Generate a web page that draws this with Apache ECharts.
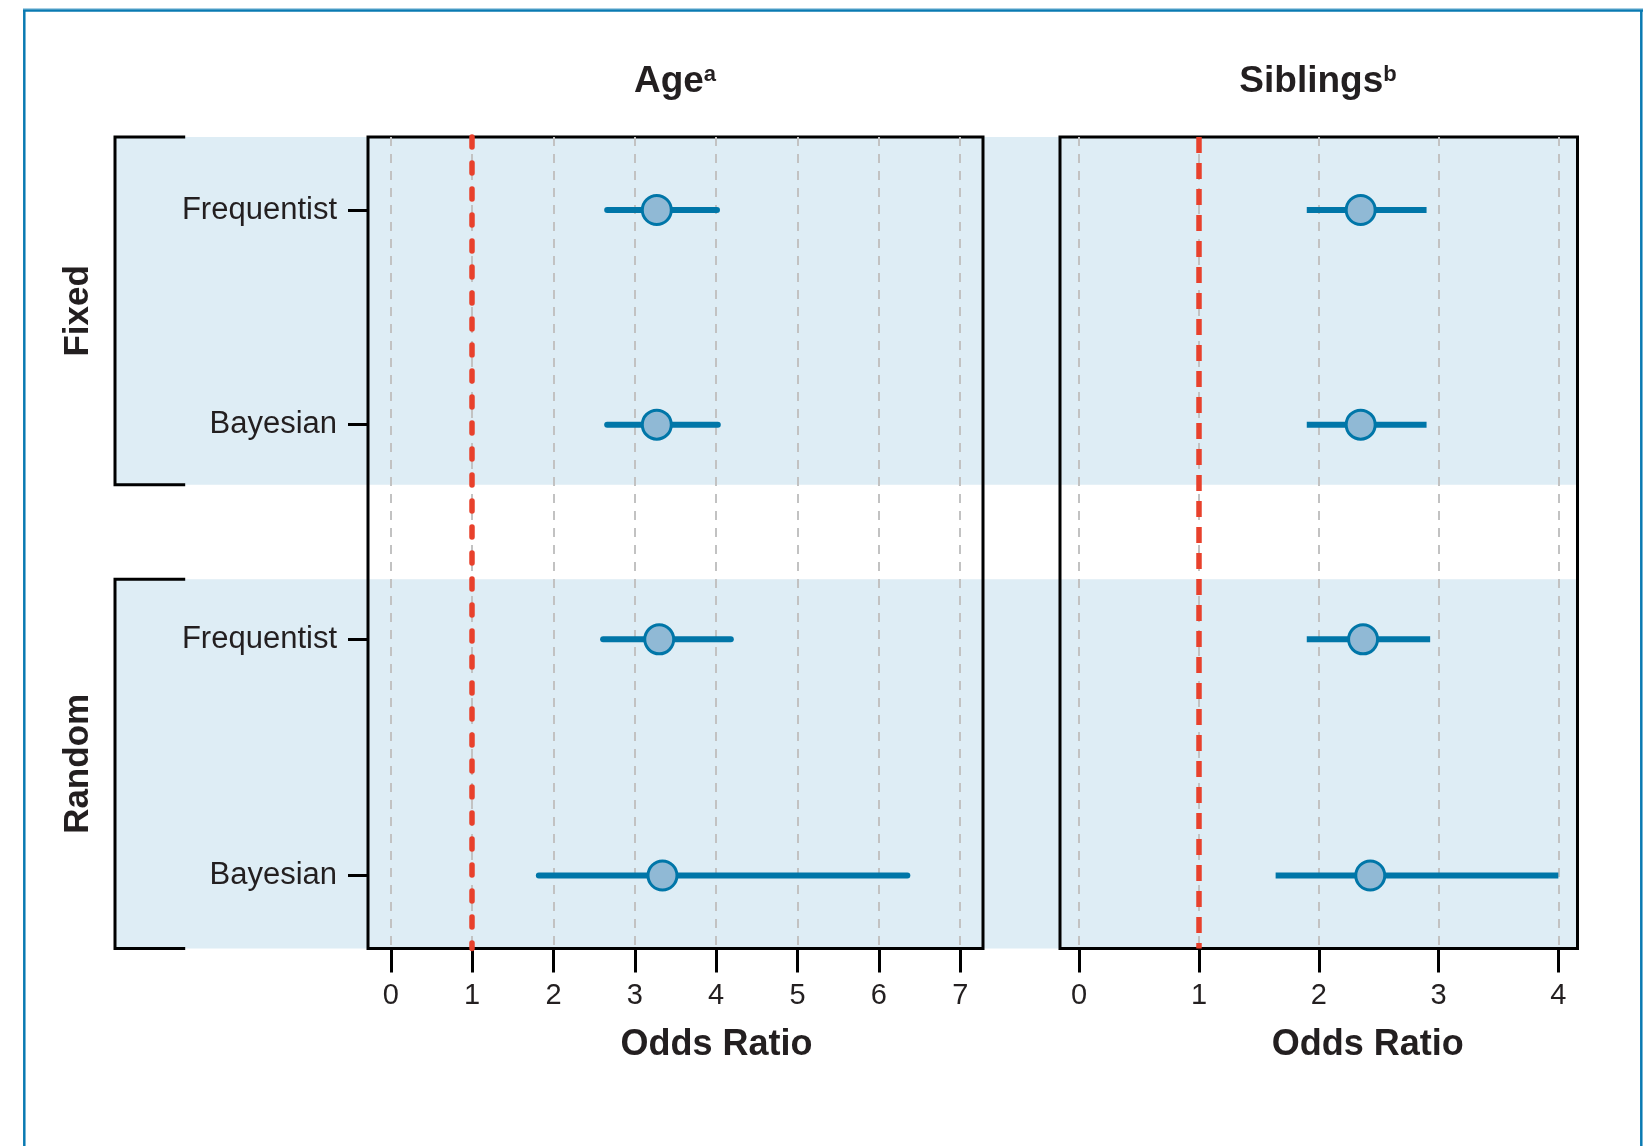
<!DOCTYPE html>
<html>
<head>
<meta charset="utf-8">
<style>
html, body { margin: 0; padding: 0; background: #fff; }
#chart { width: 1649px; height: 1146px; }
</style>
<script src="https://cdn.jsdelivr.net/npm/echarts@6/dist/echarts.min.js"></script>
</head>
<body>
<div id="chart"></div>
<script>
// rows, top to bottom (y position on a shared row scale)
const rowLabels = ['Frequentist', 'Bayesian', 'Frequentist', 'Bayesian'];
const rowPos = [0.34, 1.34, 2.34, 3.44];
const rowMax = 3.78;
const groupNames = ['Fixed', 'Random'];
const groupSpans = [[0, 1.62], [2.06, 3.78]];

// odds ratio with lower / upper limit, one value per row
const ageOR = [3.27, 3.27, 3.30, 3.34];
const ageLow = [2.66, 2.66, 2.61, 1.82];
const ageHigh = [4.01, 4.02, 4.18, 6.35];
const sibOR = [2.35, 2.35, 2.37, 2.43];
const sibLow = [1.90, 1.90, 1.90, 1.64];
const sibHigh = [2.90, 2.90, 2.93, 4.00];

const ageTicks = [0, 1, 2, 3, 4, 5, 6, 7];
const sibTicks = [0, 1, 2, 3, 4];

const FONT = 'Liberation Sans, Arial, Helvetica, sans-serif';
const BLUE = '#0076a8';
const DOT = '#90b9d5';
const BAND = '#deedf5';
const RED = '#e8412c';
const INK = '#231f20';
const BRACKET_ARM = 0.048;

const mychart = echarts.init(document.getElementById('chart'));

const xAxisFor = (idx, min, max, ticks, namePad) => ({
    type: 'value', gridIndex: idx, min: min, max: max, z: 3, position: 'bottom',
    axisLine: { show: false, onZero: false },
    axisTick: { show: true, inside: false, customValues: ticks, length: 24, lineStyle: { color: '#000', width: 3 } },
    axisLabel: { customValues: ticks, margin: 33, fontSize: 29, color: INK, fontFamily: FONT },
    splitLine: { show: true, lineStyle: { color: '#c2c2c2', width: 2, type: [9, 8] } },
    name: 'Odds Ratio', nameLocation: 'middle', nameGap: 79,
    nameTextStyle: { fontSize: 36, fontWeight: 'bold', color: INK, fontFamily: FONT, padding: [0, 0, 0, namePad] }
});

const yAxisFor = (idx, withLabels) => ({
    type: 'value', gridIndex: idx, min: 0, max: rowMax, inverse: true, z: 3, position: 'left',
    axisLine: { show: false, onZero: false },
    splitLine: { show: false },
    axisTick: { show: withLabels, inside: false, customValues: rowPos, length: 20, lineStyle: { color: '#000', width: 3 } },
    axisLabel: {
        show: withLabels, customValues: rowPos, margin: 31, fontSize: 31, color: INK, fontFamily: FONT,
        formatter: v => rowLabels[rowPos.findIndex(p => Math.abs(p - v) < 1e-6)] || ''
    }
});

const barItem = cap => (params, api) => {
    const y = api.value(0);
    const a = api.coord([api.value(1), y]);
    const b = api.coord([api.value(2), y]);
    return {
        type: 'line',
        shape: { x1: a[0], y1: a[1], x2: b[0], y2: b[1] },
        style: { stroke: BLUE, lineWidth: 6, lineCap: cap }
    };
};

const groupItem = (params, api) => {
    const y0 = api.value(0), y1 = api.value(1);
    const tl = api.coord([0, y0]);
    const br = api.coord([1, y1]);
    const arm = api.coord([BRACKET_ARM, y0])[0];
    return {
        type: 'group',
        children: [
            { type: 'rect', shape: { x: tl[0], y: tl[1], width: br[0] - tl[0], height: br[1] - tl[1] }, style: { fill: BAND } },
            { type: 'polyline', shape: { points: [[arm, tl[1]], [tl[0], tl[1]], [tl[0], br[1]], [arm, br[1]]] },
              style: { stroke: '#000', lineWidth: 3, fill: 'none' } },
            { type: 'text', x: tl[0] - 37, y: (tl[1] + br[1]) / 2, rotation: Math.PI / 2,
              style: { text: groupNames[params.dataIndex], font: 'bold 35px ' + FONT, fill: INK, align: 'center', verticalAlign: 'middle' } }
        ]
    };
};

const refLine = (dash, cap) => ({
    silent: true, symbol: ['none', 'none'], z: 5,
    label: { show: false },
    lineStyle: { color: RED, width: 5.5, type: dash, cap: cap },
    data: [{ xAxis: 1 }]
});

const panelSeries = (idx, ors, lows, highs, cap, dash) => [
    {
        type: 'custom', xAxisIndex: idx, yAxisIndex: idx, z: 6, silent: true,
        renderItem: barItem(cap),
        data: rowPos.map((y, i) => [y, lows[i], highs[i]])
    },
    {
        type: 'scatter', xAxisIndex: idx, yAxisIndex: idx, z: 7, silent: true,
        symbol: 'circle', symbolSize: 29,
        itemStyle: { color: DOT, borderColor: BLUE, borderWidth: 3, opacity: 1 },
        data: rowPos.map((y, i) => [ors[i], y]),
        markLine: refLine(dash, cap)
    }
];

const titleText = (x, word, sup) => ({
    type: 'text', x: x, y: 82,
    style: {
        text: '{t|' + word + '}{s|' + sup + '}', align: 'center', verticalAlign: 'middle',
        rich: {
            t: { fontSize: 37, fontWeight: 'bold', fontFamily: FONT, fill: INK, color: INK },
            s: { fontSize: 22, fontWeight: 'bold', fontFamily: FONT, fill: INK, color: INK, verticalAlign: 'top' }
        }
    }
});

const options = {
    animation: false,
    backgroundColor: '#fff',
    grid: [
        { left: 368, right: 666, top: 137, bottom: 197.5, show: true, z: 3, borderColor: '#000', borderWidth: 3, backgroundColor: 'transparent' },
        { left: 1060, right: 71.5, top: 137, bottom: 197.5, show: true, z: 3, borderColor: '#000', borderWidth: 3, backgroundColor: 'transparent' },
        { left: 115, right: 71.5, top: 137, bottom: 197.5, show: false }
    ],
    xAxis: [
        xAxisFor(0, -0.28, 7.28, ageTicks, 82),
        xAxisFor(1, -0.16, 4.16, sibTicks, 98),
        { type: 'value', gridIndex: 2, min: 0, max: 1, show: false }
    ],
    yAxis: [
        yAxisFor(0, true),
        yAxisFor(1, false),
        { type: 'value', gridIndex: 2, min: 0, max: rowMax, inverse: true, show: false }
    ],
    series: [
        {
            type: 'custom', xAxisIndex: 2, yAxisIndex: 2, z: 1, silent: true,
            renderItem: groupItem,
            data: groupSpans
        },
        ...panelSeries(0, ageOR, ageLow, ageHigh, 'round', [10, 16]),
        ...panelSeries(1, sibOR, sibLow, sibHigh, 'butt', [16, 10])
    ],
    graphic: [
        titleText(675, 'Age', 'a'),
        titleText(1318, 'Siblings', 'b'),
        { type: 'line', shape: { x1: 23, y1: 8.5, x2: 1643, y2: 8.5 }, style: { stroke: '#a9d0e4', lineWidth: 1 } },
        { type: 'line', shape: { x1: 23, y1: 10.5, x2: 1643, y2: 10.5 }, style: { stroke: '#0a7ab2', lineWidth: 2.5 } },
        { type: 'line', shape: { x1: 24.3, y1: 10, x2: 24.3, y2: 1146 }, style: { stroke: '#0a7ab2', lineWidth: 2.5 } },
        { type: 'line', shape: { x1: 1641.3, y1: 10, x2: 1641.3, y2: 1146 }, style: { stroke: '#0a7ab2', lineWidth: 2.5 } }
    ]
};

mychart.setOption(options);
</script>
</body>
</html>
